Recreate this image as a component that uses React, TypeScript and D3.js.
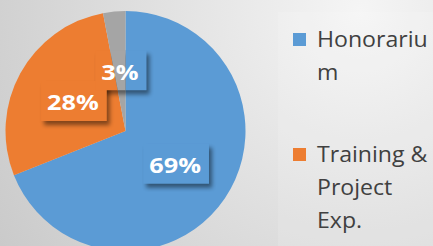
import React, { useRef, useEffect } from "react";
import * as d3 from "d3";

const categories = ["Honorarium", "Training & Project Exp.", "Other"];
const values = [69, 28, 3];
const colors = ["#5b9bd5", "#ed7d31", "#a5a5a5"];
// legend text as wrapped in the picture
const legendLines = [["Honorariu", "m"], ["Training &", "Project", "Exp."]];

const width = 433;
const height = 246;
const radius = 120;
const cx = 125.5;
const cy = 131;

const App = () => {
  const ref = useRef<SVGSVGElement>(null);

  useEffect(() => {
    const svg = d3.select(ref.current);
    svg.selectAll("*").remove();

    const defs = svg.append("defs");
    const grad = defs
      .append("radialGradient")
      .attr("id", "bg")
      .attr("gradientUnits", "userSpaceOnUse")
      .attr("cx", 360)
      .attr("cy", 10)
      .attr("r", 470);
    grad.append("stop").attr("offset", 0).attr("stop-color", "#f5f5f5");
    grad.append("stop").attr("offset", 0.45).attr("stop-color", "#e0e0e0");
    grad.append("stop").attr("offset", 1).attr("stop-color", "#c6c6c6");

    const blur = defs.append("filter").attr("id", "blur")
      .attr("x", "-50%").attr("y", "-50%").attr("width", "200%").attr("height", "200%");
    blur.append("feGaussianBlur").attr("stdDeviation", 2);

    svg.append("rect").attr("width", width).attr("height", height).attr("fill", "url(#bg)");
    svg
      .append("rect")
      .attr("x", 278)
      .attr("y", 12)
      .attr("width", width - 278)
      .attr("height", height - 12)
      .attr("fill", "#ffffff")
      .attr("opacity", 0.12);

    const pie = d3.pie<number>().sort(null).value((d) => d);
    const arcs = pie(values);
    const arc = d3.arc<d3.PieArcDatum<number>>().innerRadius(0).outerRadius(radius);

    const g = svg.append("g").attr("transform", `translate(${cx},${cy})`);

    const drawSlices = (parent: any) =>
      parent
        .selectAll("path")
        .data(arcs)
        .join("path")
        .attr("d", arc)
        .attr("fill", (_d: any, i: number) => colors[i]);

    drawSlices(g);

    // data labels: box with shadow, pie shows through it
    arcs.forEach((a, i) => {
      const [lx, ly] = arc.centroid(a);
      const label = g.append("g");
      const txt = label
        .append("text")
        .attr("font-family", "Open Sans")
        .attr("font-weight", "bold")
        .attr("font-size", 22)
        .text(values[i] + "%");
      const tw = (txt.node() as SVGTextElement).getComputedTextLength() * 1.15;
      txt.remove();

      const bw = tw + 14;
      const bh = 40;
      const bx = lx - bw / 2 + 1;
      const by = ly - bh / 2 - 1;

      label
        .append("rect")
        .attr("x", bx + 3)
        .attr("y", by + 4)
        .attr("width", bw)
        .attr("height", bh)
        .attr("fill", "#000000")
        .attr("opacity", 0.45)
        .attr("filter", "url(#blur)");

      defs
        .append("clipPath")
        .attr("id", "clip" + i)
        .append("rect")
        .attr("x", bx + cx)
        .attr("y", by + cy)
        .attr("width", bw)
        .attr("height", bh);

      const inner = svg
        .append("g")
        .attr("clip-path", `url(#clip${i})`)
        .append("g")
        .attr("transform", `translate(${cx},${cy})`);
      drawSlices(inner);

      svg
        .append("text")
        .attr("transform", `translate(${cx + lx},${cy + ly}) scale(1.15,1)`)
        .attr("text-anchor", "middle")
        .attr("dominant-baseline", "central")
        .attr("font-family", "Open Sans")
        .attr("font-weight", "bold")
        .attr("font-size", 22)
        .attr("fill", "#ffffff")
        .text(values[i] + "%");
    });

    // legend (only the first two series are listed)
    const legendTop = [33, 148];
    legendLines.forEach((lines, i) => {
      svg
        .append("rect")
        .attr("x", 293)
        .attr("y", legendTop[i])
        .attr("width", 13)
        .attr("height", 13)
        .attr("fill", colors[i]);
      lines.forEach((line, j) => {
        svg
          .append("text")
          .attr("transform", `translate(317,${legendTop[i] + 14 + j * 33}) scale(1.1,1)`)
          .attr("font-family", "Open Sans")
          .attr("font-size", 21)
          .attr("fill", "#404040")
          .text(line);
      });
    });
  }, []);

  return (
    <svg
      ref={ref}
      width={width}
      height={height}
      style={{ position: "absolute", left: 0, top: 0 }}
    />
  );
};

export default App;
